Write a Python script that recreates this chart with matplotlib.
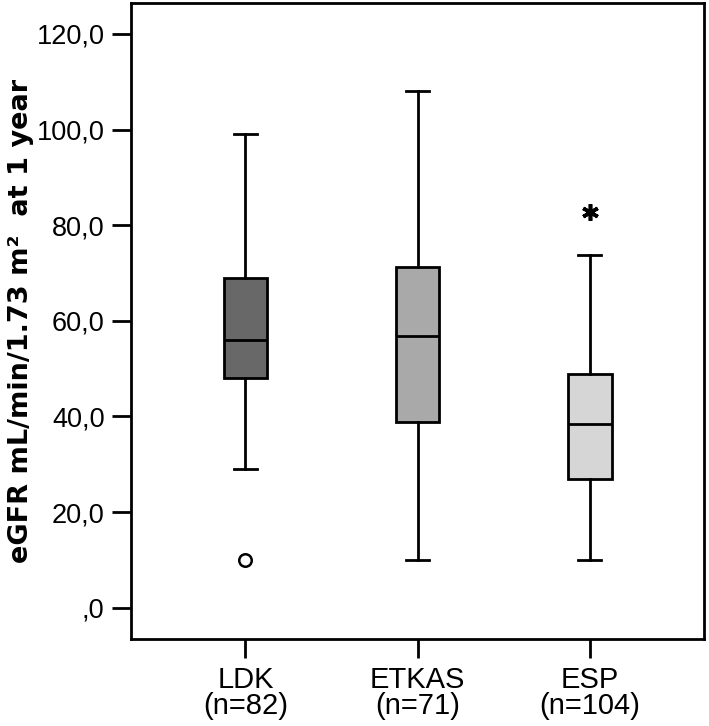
import matplotlib
matplotlib.use("Agg")
import matplotlib.pyplot as plt

plt.rcParams["font.family"] = ["Liberation Sans", "DejaVu Sans"]

# data (eGFR at 1 year)
groups = ["LDK", "ETKAS", "ESP"]
n_counts = [82, 71, 104]
whisk_lo = [29.0, 10.0, 10.0]
q1 = [48.0, 38.9, 26.9]
median = [55.9, 56.8, 38.4]
q3 = [69.0, 71.3, 48.9]
whisk_hi = [99.0, 108.0, 73.8]
outliers = [[10.0], [], []]        # circles
extremes = [[], [], [82.8]]        # asterisks
fills = ["#686868", "#a9a9a9", "#d6d6d6"]
yticks = [0, 20, 40, 60, 80, 100, 120]


def fmt(v):
    s = f"{v:.1f}".replace(".", ",")
    return s[1:] if v == 0 else s


fig = plt.figure(figsize=(7.09, 7.26), dpi=100)
ax = fig.add_axes([0.1848, 0.1194, 0.8082, 0.8761])

stats = [dict(med=m, q1=a, q3=b, whislo=lo, whishi=hi, fliers=[])
         for m, a, b, lo, hi in zip(median, q1, q3, whisk_lo, whisk_hi)]
pos = list(range(1, len(groups) + 1))
bp = ax.bxp(stats, positions=pos, widths=0.255, patch_artist=True, showfliers=False,
            boxprops=dict(edgecolor="black", linewidth=2),
            medianprops=dict(color="black", linewidth=2),
            whiskerprops=dict(color="black", linewidth=2),
            capprops=dict(color="black", linewidth=2), capwidths=0.135)
for patch, c in zip(bp["boxes"], fills):
    patch.set_facecolor(c)

for p, vals in zip(pos, outliers):
    if vals:
        ax.plot([p] * len(vals), vals, "o", mfc="white", mec="black", mew=1.8, ms=9)
for p, vals in zip(pos, extremes):
    if vals:
        ax.plot([p] * len(vals), vals, marker=(6, 2, 0), color="black", mew=2.6, ms=12, ls="none")

ax.set_xlim(0.335, 3.665)
ax.set_ylim(-6.6, 126.4)
ax.set_yticks(yticks)
ax.set_yticklabels([fmt(v) for v in yticks], fontsize=19.5)
ax.set_xticks(pos)
ax.set_xticklabels([f"{g}\n(n={n})" for g, n in zip(groups, n_counts)], fontsize=21, linespacing=0.92)
ax.tick_params(axis="both", direction="out", length=14, width=2, color="black", pad=5)
ax.set_ylabel("eGFR mL/min/1.73 m²  at 1 year", fontsize=19.5, fontweight="bold",
              family=["DejaVu Sans"])
ax.yaxis.label.set_va("center")
ax.yaxis.set_label_coords(-0.192, 0.5)
for s in ax.spines.values():
    s.set_linewidth(2)

fig.savefig("out.png", dpi=100, facecolor="white")
